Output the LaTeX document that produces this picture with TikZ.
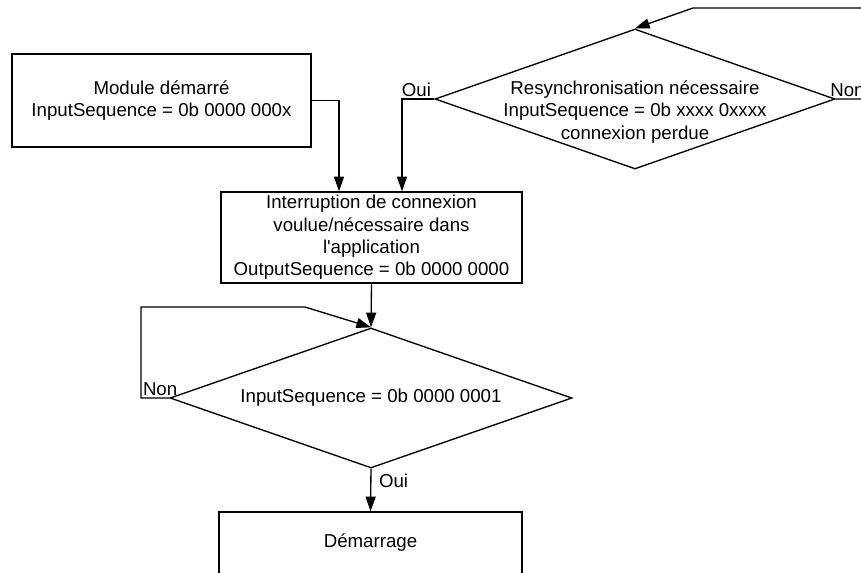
\documentclass[tikz,border=0pt]{standalone}
\usepackage{fontspec}
\setmainfont{Liberation Sans}
\usetikzlibrary{positioning}
\usetikzlibrary{calc}
\usetikzlibrary{shapes.geometric}
\usetikzlibrary{arrows.meta}

\begin{document}
\begin{tikzpicture} [x=0.75pt, y=-0.75pt, line width=1pt, ->,
    >={Triangle[length=11pt, width=7.5pt]},
    font=\fontsize{14}{16.8}\selectfont,
    box/.style={draw, rectangle, align=center, inner sep=0pt},
    decision/.style={draw, diamond, aspect=2.86, align=center, inner sep=0pt},
    lbl/.style={inner sep=1pt}]

\clip (0,0) rectangle (861,572);

\node [box, minimum width=224.25pt, minimum height=69.75pt] (mod) at (161.5,100.5)
    {Module démarré\\InputSequence = 0b 0000 000x};
\node [decision, minimum width=300pt, minimum height=105pt] (res) at (635,99) {};
\node [align=center, inner sep=0pt] (restxt) at (635,112)
    {Resynchronisation nécessaire\\InputSequence = 0b xxxx 0xxxx\\connexion perdue};
\node [box, minimum width=225.75pt, minimum height=68.25pt] (intr) at (371.5,237.5)
    {Interruption de connexion\\voulue/nécessaire dans\\l\textquotesingle application\\OutputSequence = 0b 0000 0000};
\node [decision, minimum width=301.5pt, minimum height=105pt] (chk) at (371,398)
    {InputSequence = 0b 0000 0001};
\node [box, minimum width=227.25pt, minimum height=46.5pt] (start) at (370.5,543) {Démarrage};

\node [lbl, anchor=south east, xshift=-1pt] (oui1) at (res.west) {Oui};
\node [lbl, anchor=south west, xshift=-5.5pt] (non1) at (res.east) {Non};

% loop back from the right
\coordinate (rfar) at (900,99);
\coordinate (tfar) at (900,8);
\coordinate (tbend) at (693,8);

% Non loop on the left
\coordinate (ncorner) at (141,398);
\coordinate (ntop) at (141,307);
\coordinate (nbend) at (305,307);
\node [lbl, anchor=south west] (non2) at (ncorner) {Non};
\node [lbl, anchor=west] (oui2) at ($(chk.south)+(6,12)$) {Oui};

\draw (mod.east) -| ($(intr.north)+(-32.5,0)$);
\draw (res.west) -| ($(intr.north)+(30.5,0)$);
\draw (res.east) -- (rfar) -- (tfar) -- (tbend) -- (res.north);
\draw (intr.south) -- (chk.north);
\draw (chk.west) -- (ncorner) -- (ntop) -- (nbend) -- (chk.north);
\draw (chk.south) -- (start.north);

\end{tikzpicture}
\end{document}
